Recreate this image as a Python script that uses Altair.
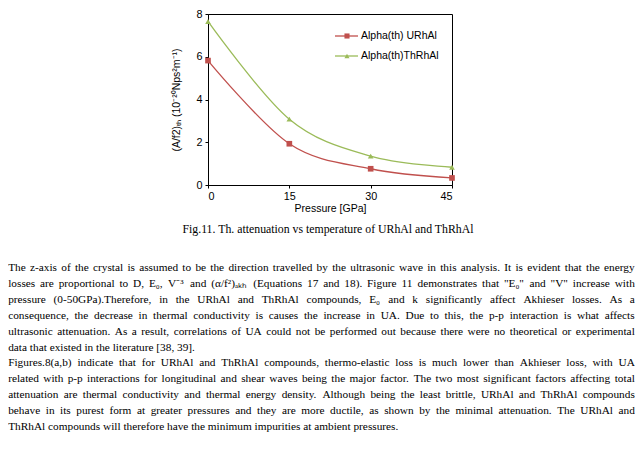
import altair as alt
import pandas as pd

# ---------------- data ----------------
pressure = [0, 15, 30, 45]
alpha_urhal = [5.82, 1.93, 0.76, 0.33]
alpha_thrhal = [7.65, 3.08, 1.35, 0.83]
series_names = ["Alpha(th) URhAl", "Alpha(th)ThRhAl"]
series_colors = ["#C0504D", "#9BBB59"]
series_shapes = ["square", "triangle-up"]
x_tick_values = [0, 15, 30, 45]
y_tick_values = [0, 2, 4, 6, 8]
x_title = "Pressure [GPa]"
y_title = "(A/f2)ₜₕ (10⁻²⁰Nps²m⁻¹)"
caption = "Fig.11. Th. attenuation vs temperature of URhAl and ThRhAl"
paragraph_lines = [
    "The z-axis of the crystal is assumed to be the direction travelled by the ultrasonic wave in this analysis. It is evident that the energy",
    "losses are proportional to D, E₀, V⁻³ and (α/f²)ₐₖₕ (Equations 17 and 18). Figure 11 demonstrates that \"E₀\" and \"V\" increase with",
    "pressure (0-50GPa).Therefore, in the URhAl and ThRhAl compounds, E₀ and k significantly affect Akhieser losses. As a",
    "consequence, the decrease in thermal conductivity is causes the increase in UA. Due to this, the p-p interaction is what affects",
    "ultrasonic attenuation. As a result, correlations of UA could not be performed out because there were no theoretical or experimental",
    "data that existed in the literature [38, 39].",
    "Figures.8(a,b) indicate that for URhAl and ThRhAl compounds, thermo-elastic loss is much lower than Akhieser loss, with UA",
    "related with p-p interactions for longitudinal and shear waves being the major factor. The two most significant factors affecting total",
    "attenuation are thermal conductivity and thermal energy density. Although being the least brittle, URhAl and ThRhAl compounds",
    "behave in its purest form at greater pressures and they are more ductile, as shown by the minimal attenuation. The URhAl and",
    "ThRhAl compounds will therefore have the minimum impurities at ambient pressures.",
]
line_is_justified = [True, True, True, True, True, False, True, True, True, True, False]

# ---------------- layout (page pixels) ----------------
PAGE_MARGIN = 8
PLOT_LEFT, PLOT_TOP = 208, 14
PLOT_W, PLOT_H = 244, 171
SVG_W, SVG_H = 627, 435
TEXT_LEFT, TEXT_RIGHT = 8.2, 634.8
TEXT_TOP, LINE_STEP = 268, 15.9
SANS = "Liberation Sans"
SERIF = "Liberation Serif"


def rx(px):
    return px - PLOT_LEFT


def ry(py):
    return py - PLOT_TOP


# Times New Roman advance widths (1/1000 em), used to justify paragraph lines
TIMES = {" ": 250, "!": 333, '"': 408, "#": 500, "$": 500, "%": 833, "&": 778, "'": 180,
         "(": 333, ")": 333, "*": 500, "+": 564, ",": 250, "-": 333, ".": 250, "/": 278,
         ":": 278, ";": 278, "<": 564, "=": 564, ">": 564, "?": 444, "@": 921,
         "[": 333, "]": 333, "A": 722, "B": 667, "C": 667, "D": 722, "E": 611, "F": 556,
         "G": 722, "H": 722, "I": 333, "J": 389, "K": 722, "L": 611, "M": 889, "N": 722,
         "O": 722, "P": 556, "Q": 722, "R": 667, "S": 556, "T": 611, "U": 722, "V": 722,
         "W": 944, "X": 722, "Y": 722, "Z": 611, "a": 444, "b": 500, "c": 444, "d": 500,
         "e": 444, "f": 333, "g": 500, "h": 500, "i": 278, "j": 278, "k": 500, "l": 278,
         "m": 778, "n": 500, "o": 500, "p": 500, "q": 500, "r": 333, "s": 389, "t": 278,
         "u": 500, "v": 500, "w": 722, "x": 500, "y": 500, "z": 444}
for d in "0123456789":
    TIMES[d] = 500


def text_em(s):
    return sum(TIMES.get(c, 400) for c in s) / 1000.0


avail = TEXT_RIGHT - TEXT_LEFT
natural = [text_em(" ".join(l.split())) for l, j in zip(paragraph_lines, line_is_justified) if j]
FS = min(11.3, avail / max(natural))

word_rows = []
for i, (line, just) in enumerate(zip(paragraph_lines, line_is_justified)):
    words = line.split()
    widths = [text_em(w) * FS for w in words]
    gap = (avail - sum(widths)) / (len(words) - 1) if (just and len(words) > 1) else 0.25 * FS
    x = TEXT_LEFT
    y = TEXT_TOP + i * LINE_STEP
    for w, wd in zip(words, widths):
        word_rows.append({"word": w, "px": rx(x), "py": ry(y)})
        x += wd + gap
words_df = pd.DataFrame(word_rows)

df = pd.DataFrame({
    "pressure": pressure * 2,
    "value": alpha_urhal + alpha_thrhal,
    "name": [series_names[0]] * len(pressure) + [series_names[1]] * len(pressure),
})

color = alt.Color("name:N", scale=alt.Scale(domain=series_names, range=series_colors), legend=None)
shape = alt.Shape("name:N", scale=alt.Scale(domain=series_names, range=series_shapes), legend=None)

axis_common = dict(grid=False, domainColor="black", tickColor="black", labelFont=SANS,
                   labelColor="black", titleFont=SANS, titleFontWeight="normal",
                   titleColor="black", labelFontSize=10.8, titleFontSize=10.5)

base = alt.Chart(df).encode(
    x=alt.X("pressure:Q", scale=alt.Scale(domain=[0, 45], nice=False, zero=False),
            axis=alt.Axis(values=x_tick_values, title=x_title, format="d", tickSize=3,
                          labelPadding=2, titlePadding=3, **axis_common)),
    y=alt.Y("value:Q", scale=alt.Scale(domain=[0, 8], nice=False),
            axis=alt.Axis(values=y_tick_values, title=y_title, format="d", tickSize=3,
                          labelPadding=3, titlePadding=14, **axis_common)),
    color=color,
)
lines = base.mark_line(interpolate="cardinal", strokeWidth=1.3)
points = base.mark_point(filled=True, size=32, opacity=1).encode(shape=shape)
plot = alt.layer(lines, points)

# legend (inside plot, top right)
legend_df = pd.DataFrame({"name": series_names, "ly": [ry(36), ry(56)]})
ly = alt.Y("ly:Q", scale=None, axis=None)
leg_rule = alt.Chart(legend_df).mark_rule(strokeWidth=1.3).encode(
    x=alt.value(rx(335)), x2=alt.value(rx(358)), y=ly, color=color)
leg_pt = alt.Chart(legend_df).mark_point(filled=True, size=26, opacity=1).encode(
    x=alt.value(rx(347)), y=ly, color=color, shape=shape)
leg_txt = alt.Chart(legend_df).mark_text(align="left", baseline="middle", font=SANS,
                                         fontSize=10.5, color="black").encode(
    x=alt.value(rx(361)), y=ly, text="name:N")

cap_df = pd.DataFrame({"t": [caption]})
cap = alt.Chart(cap_df).mark_text(align="center", baseline="middle", font=SERIF,
                                  fontSize=11.8, color="black").encode(
    x=alt.value(rx(328)), y=alt.value(ry(229)), text="t:N")

para = alt.Chart(words_df).mark_text(align="left", baseline="middle", font=SERIF,
                                     fontSize=FS, color="black").encode(
    x=alt.X("px:Q", scale=None, axis=None),
    y=alt.Y("py:Q", scale=None, axis=None),
    text="word:N")

free = alt.layer(leg_rule, leg_pt, leg_txt, cap, para)

chart = alt.layer(plot, free).resolve_scale(x="independent", y="independent").properties(
    width=PLOT_W, height=PLOT_H,
    autosize=alt.AutoSizeParams(type="none"),
    padding={"left": PLOT_LEFT - PAGE_MARGIN, "top": PLOT_TOP - PAGE_MARGIN,
             "right": SVG_W - (PLOT_LEFT - PAGE_MARGIN) - PLOT_W,
             "bottom": SVG_H - (PLOT_TOP - PAGE_MARGIN) - PLOT_H},
    background="white",
).configure_view(stroke="black", strokeWidth=1)

chart.save("out.html", embed_options={"renderer": "svg", "actions": False})
